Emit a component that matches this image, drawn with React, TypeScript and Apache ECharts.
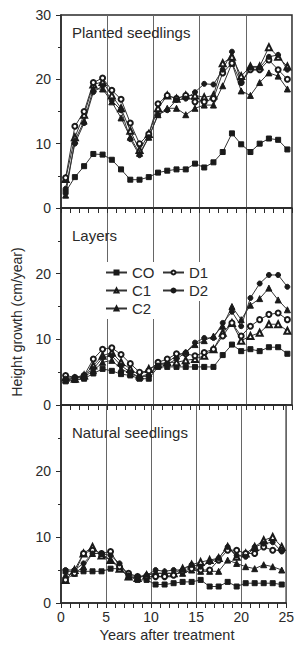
import React, { useEffect, useRef } from "react";
import * as echarts from "echarts";

const years = [0.5, 1.5, 2.5, 3.5, 4.5, 5.5, 6.5, 7.5, 8.5, 9.5, 10.5, 11.5, 12.5, 13.5, 14.5, 15.5, 16.5, 17.5, 18.5, 19.5, 20.5, 21.5, 22.5, 23.5, 24.5];
const xTickLabels = ["0", "5", "10", "15", "20", "25"];
const seriesNames = ["CO", "C1", "C2", "D1", "D2"];
const panelTitles = ["Planted seedlings", "Layers", "Natural seedlings"];

// Planted seedlings
const plantedCO = [2.5, 4.8, 6.5, 8.4, 8.3, 7.5, 6.0, 4.4, 4.4, 4.8, 5.5, 5.8, 6.0, 6.0, 6.9, 6.3, 7.1, 8.7, 11.6, 9.9, 8.7, 10.0, 10.8, 10.6, 9.1];
const plantedC1 = [4.5, 11.0, 14.5, 19.2, 19.6, 17.5, 15.5, 12.0, 9.0, 11.5, 15.5, 17.5, 17.0, 17.5, 17.5, 17.2, 17.5, 22.5, 23.5, 20.5, 22.0, 22.0, 25.0, 23.5, 22.0];
const plantedC2 = [2.0, 10.5, 13.5, 18.5, 18.5, 16.5, 14.0, 11.0, 8.5, 11.0, 14.5, 15.5, 15.5, 14.5, 15.5, 16.0, 16.0, 19.0, 22.5, 18.2, 17.5, 19.5, 21.0, 20.5, 18.5];
const plantedD1 = [4.7, 12.7, 15.0, 19.5, 20.2, 18.3, 16.9, 13.2, 10.0, 11.5, 16.2, 17.5, 17.0, 17.5, 16.5, 16.5, 17.0, 21.0, 22.5, 19.5, 21.5, 21.5, 23.0, 21.5, 20.0];
const plantedD2 = [3.0, 10.0, 13.2, 18.0, 19.0, 16.7, 15.2, 10.7, 8.2, 11.0, 14.5, 15.2, 16.8, 17.0, 18.0, 19.3, 19.2, 21.5, 24.3, 19.5, 21.8, 21.8, 23.5, 23.8, 21.5];

// Layers
const layersCO = [3.6, 3.8, 4.0, 4.8, 5.5, 5.2, 4.7, 4.5, 4.0, 4.0, 5.8, 5.8, 5.8, 5.8, 5.8, 5.8, 5.8, 7.6, 9.2, 8.2, 8.5, 8.2, 8.8, 8.8, 7.8];
const layersC1 = [4.2, 4.0, 4.5, 6.0, 7.5, 8.0, 6.5, 5.5, 4.5, 5.5, 6.2, 6.5, 6.5, 6.8, 7.0, 7.5, 8.5, 11.0, 12.5, 9.8, 10.5, 11.0, 12.3, 12.3, 11.3];
const layersC2 = [3.8, 4.0, 4.3, 5.2, 6.5, 6.8, 5.5, 4.8, 4.2, 4.8, 6.0, 6.5, 7.5, 8.0, 9.2, 9.8, 10.5, 12.0, 15.0, 13.0, 15.2, 16.2, 17.8, 16.0, 14.5];
const layersD1 = [4.5, 4.2, 4.5, 7.0, 8.5, 8.7, 7.7, 6.3, 5.0, 5.2, 6.5, 7.0, 7.8, 7.8, 7.5, 8.0, 8.5, 10.5, 12.5, 10.5, 12.0, 13.0, 13.8, 14.0, 13.0];
const layersD2 = [4.0, 4.2, 4.5, 5.5, 7.2, 7.5, 6.0, 5.0, 4.2, 4.5, 6.0, 6.2, 7.0, 8.0, 9.5, 10.2, 10.2, 12.5, 14.2, 12.0, 16.3, 18.5, 19.8, 19.8, 18.0];

// Natural seedlings
const naturalCO = [4.8, 4.8, 4.8, 4.8, 4.8, 5.2, 5.2, 4.0, 3.5, 3.5, 2.8, 2.8, 3.0, 3.2, 3.2, 3.5, 2.5, 2.5, 3.2, 2.5, 3.0, 3.0, 3.0, 3.0, 2.8];
const naturalC1 = [3.5, 5.0, 7.5, 8.5, 7.2, 6.5, 5.2, 4.0, 3.8, 4.2, 4.5, 4.5, 4.5, 5.2, 5.8, 6.2, 6.5, 6.8, 8.5, 7.0, 7.5, 8.5, 9.5, 10.0, 8.5];
const naturalC2 = [4.2, 4.5, 5.5, 7.5, 7.5, 6.5, 5.5, 4.0, 3.8, 4.3, 4.5, 4.5, 4.5, 4.5, 5.0, 4.8, 4.8, 4.8, 6.5, 6.0, 5.5, 5.2, 5.8, 5.5, 5.0];
const naturalD1 = [3.5, 4.5, 7.5, 8.0, 7.5, 7.8, 5.5, 4.5, 4.0, 4.0, 4.0, 4.0, 4.2, 4.8, 5.2, 5.0, 5.0, 6.5, 8.0, 8.0, 7.5, 7.5, 8.5, 8.0, 8.0];
const naturalD2 = [5.0, 5.0, 6.0, 7.5, 7.5, 7.2, 6.0, 4.2, 4.0, 4.2, 5.0, 4.8, 5.0, 5.0, 5.8, 5.5, 6.2, 6.8, 8.5, 7.2, 7.0, 8.5, 9.0, 9.2, 7.8];

const panels = [
  [plantedCO, plantedC1, plantedC2, plantedD1, plantedD2],
  [layersCO, layersC1, layersC2, layersD1, layersD2],
  [naturalCO, naturalC1, naturalC2, naturalD1, naturalD2],
];

const symbols = ["rect", "emptyTriangle", "triangle", "emptyCircle", "circle"];
const symbolSizes = [5, 6, 6, 5, 5];

const INK = "#2a2a2a";
const FONT = "Liberation Sans, Arial, sans-serif";

export default function App() {
  const ref = useRef<HTMLDivElement>(null);

  useEffect(() => {
    if (!ref.current) return;
    const chart = echarts.init(ref.current, undefined, { renderer: "svg" });

    const gridTops = [15, 208, 405];
    const gridHeights = [193, 197, 198];

    const grids = gridTops.map((t, i) => ({
      left: 61,
      right: 5,
      top: t,
      height: gridHeights[i],
      show: true,
      borderColor: INK,
      borderWidth: 1.5,
      backgroundColor: "transparent",
    }));

    const xAxes = gridTops.map((_, i) => ({
      type: "value",
      gridIndex: i,
      min: 0,
      max: 25,
      interval: 5,
      axisLine: { show: true, lineStyle: { color: INK, width: 1.5 } },
      axisTick: { show: true, inside: false, length: 5, lineStyle: { color: INK, width: 1 } },
      minorTick: { show: true, splitNumber: 5, length: 5, lineStyle: { color: INK, width: 1 } },
      splitLine: { show: true, lineStyle: { color: "#666", width: 1 } },
      axisLabel: {
        show: i === 2,
        color: INK,
        fontSize: 14,
        fontFamily: FONT,
        margin: 7,
        formatter: (v: number) => (xTickLabels.includes(String(v)) ? String(v) : ""),
      },
    }));

    const yAxes = gridTops.map((_, i) => ({
      type: "value",
      gridIndex: i,
      min: 0,
      max: 30,
      interval: 10,
      axisLine: { show: true, lineStyle: { color: INK, width: 1.5 } },
      axisTick: { show: true, inside: false, length: 5, lineStyle: { color: INK, width: 1 } },
      minorTick: { show: true, splitNumber: 2, length: 3, lineStyle: { color: INK, width: 1 } },
      splitLine: { show: false },
      axisLabel: {
        color: INK,
        fontSize: 14,
        fontFamily: FONT,
        margin: 10,
        formatter: (v: number) => (i > 0 && v === 30 ? "" : String(v)),
      },
    }));

    const series: any[] = [];
    panels.forEach((panel, p) => {
      panel.forEach((vals, s) => {
        series.push({
          type: "line",
          name: seriesNames[s],
          xAxisIndex: p,
          yAxisIndex: p,
          data: years.map((x, k) => [x, vals[k]]),
          symbol: symbols[s],
          symbolSize: symbolSizes[s],
          showSymbol: true,
          lineStyle: { color: "#333", width: 1 },
          itemStyle: { color: "#1a1a1a", borderColor: "#1a1a1a", borderWidth: 1 },
          emphasis: { disabled: true },
          z: 3,
        });
      });
    });

    const legendCommon = {
      orient: "vertical",
      itemWidth: 21,
      itemHeight: 5,
      itemGap: 3,
      textStyle: { color: INK, fontSize: 15, fontFamily: FONT },
      backgroundColor: "#fff",
      selectedMode: false,
      z: 5,
    };

    const option: any = {
      animation: false,
      backgroundColor: "#fff",
      grid: grids,
      xAxis: xAxes,
      yAxis: yAxes,
      series,
      legend: [
        {
          ...legendCommon,
          data: ["CO", "C1", "C2"],
          left: 100,
          top: 262,
          padding: [3, 10, 3, 5],
        },
        {
          ...legendCommon,
          data: ["D1", "D2"],
          left: 160,
          top: 262,
          padding: [3, 6, 3, 2],
        },
      ],
      graphic: [
        ...panelTitles.map((t, i) => ({
          type: "text",
          left: 72,
          top: [25, 228, 425][i],
          style: { text: t, fill: INK, font: `15px ${FONT}` },
          z: 10,
        })),
        {
          type: "text",
          x: 17,
          y: 322,
          rotation: Math.PI / 2,
          style: {
            text: "Height growth (cm/year)",
            fill: INK,
            font: `14px ${FONT}`,
            textAlign: "center",
            textVerticalAlign: "middle",
          },
        },
        {
          type: "text",
          x: 167,
          y: 635,
          style: {
            text: "Years after treatment",
            fill: INK,
            font: `14.5px ${FONT}`,
            textAlign: "center",
            textVerticalAlign: "middle",
          },
        },
      ],
    };

    chart.setOption(option);
    return () => chart.dispose();
  }, []);

  return <div ref={ref} style={{ width: 297, height: 651, position: "absolute", left: 0, top: 0 }} />;
}
